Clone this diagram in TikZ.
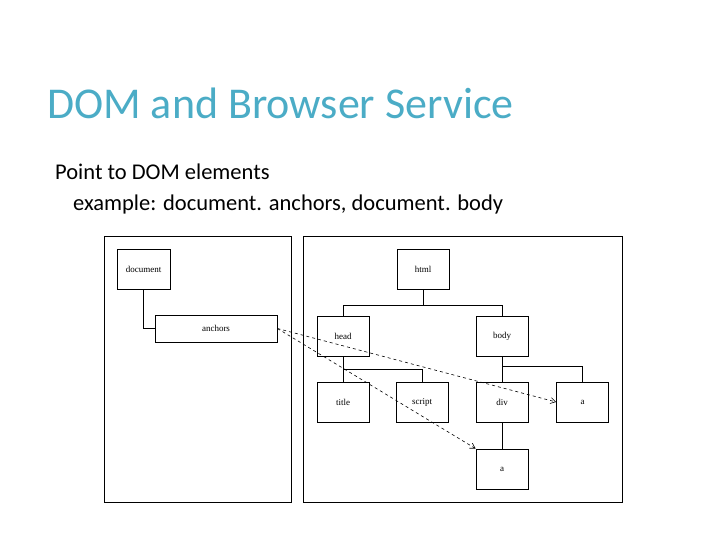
\documentclass[tikz,border=0pt]{standalone}
\usepackage{fontspec}
\setmainfont{Carlito}
\newfontfamily\boxfont{Liberation Serif}
\usetikzlibrary{arrows.meta}
\definecolor{teal1}{RGB}{75,172,198}
\begin{document}
\begin{tikzpicture}[x=1pt,y=-1pt,
  bx/.style={draw,line width=0.8pt,minimum width=#1,inner sep=0pt,font=\boxfont\fontsize{9}{10}\selectfont},
  bx/.default=52pt,
  ln/.style={line width=0.8pt},
  dl/.style={dashed,line width=0.6pt,-{Straight Barb[length=5pt,width=6pt]}}]
\useasboundingbox (0,0) rectangle (720,540);
\node[anchor=base west,text=teal1,font=\fontsize{44}{46}\selectfont,inner sep=0pt] (t) at (47,119) {DOM and Browser Service};
\node[anchor=base west,font=\fontsize{22.5}{24}\selectfont,inner sep=0pt] (p) at (55,180) {Point to DOM elements};
\node[anchor=base west,font=\fontsize{22.5}{24}\selectfont,inner sep=0pt] (e) at (73,211) {example: document. anchors, document. body};
\draw[line width=0.6pt] (104,236) rectangle (291,502);
\draw[line width=0.6pt] (303,236) rectangle (622,502);
\node[bx=53pt,minimum height=40pt] (doc) at (143.5,269) {document};
\node[bx=122pt,minimum height=27pt] (anc) at (216,328.5) {anchors};
\node[bx,minimum height=40pt] (html) at (423,269) {html};
\node[bx,minimum height=40pt] (head) at (343,336) {head};
\node[bx,minimum height=40pt] (body) at (502,336) {body};
\node[bx,minimum height=40pt] (title) at (343,402) {title};
\node[bx,minimum height=40pt] (script) at (422,402) {script};
\node[bx,minimum height=40pt] (div) at (502,402) {div};
\node[bx,minimum height=40pt] (a1) at (582.5,402) {a};
\node[bx,minimum height=40pt] (a2) at (502,469) {a};
\draw[ln] (doc.south) |- (anc.west);
\draw[ln] (html.south) -- ++(0,16) -| (head.north);
\draw[ln] (html.south) -- ++(0,16) -| (body.north);
\draw[ln] (head.south) -- (title.north);
\draw[ln] (head.south) -- ++(0,13) -| (script.north);
\draw[ln] (body.south) -- (div.north);
\draw[ln] (body.south) -- ++(0,10) -| (a1.north);
\draw[ln] (div.south) -- (a2.north);
\draw[dl] (anc.east) -- (a1.west);
\draw[dl] (anc.east) -- (a2.north west);
\end{tikzpicture}
\end{document}
